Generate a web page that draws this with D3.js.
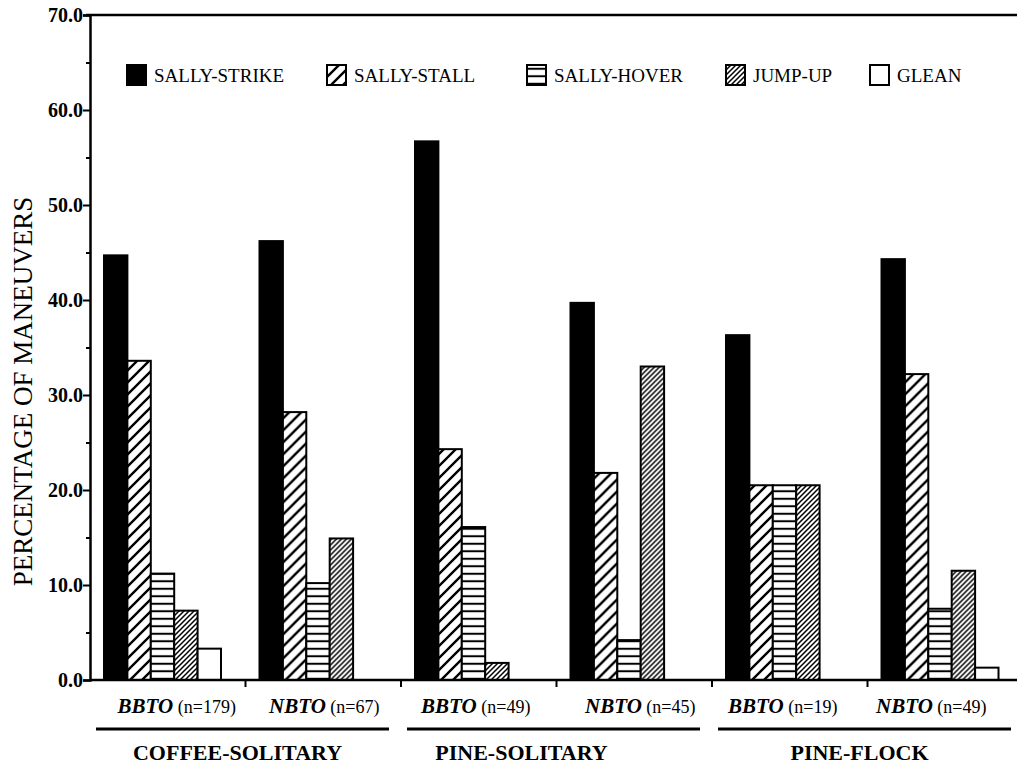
<!DOCTYPE html>
<html>
<head>
<meta charset="utf-8">
<script src="https://cdnjs.cloudflare.com/ajax/libs/d3/7.8.5/d3.min.js"></script>
<style>
  body { margin: 0; background: #fff; }
  svg text { font-family: "Liberation Serif", "DejaVu Serif", serif; fill: #000; }
</style>
</head>
<body>
<div id="chart"></div>
<script>
// data
var birds = ["BBTO", "NBTO", "BBTO", "NBTO", "BBTO", "NBTO"];
var sampleN = [179, 67, 49, 45, 19, 49];
var habitats = ["COFFEE-SOLITARY", "PINE-SOLITARY", "PINE-FLOCK"];
var maneuvers = ["SALLY-STRIKE", "SALLY-STALL", "SALLY-HOVER", "JUMP-UP", "GLEAN"];
var sallyStrike = [44.7, 46.2, 56.7, 39.7, 36.3, 44.3];
var sallyStall = [33.6, 28.2, 24.3, 21.8, 20.5, 32.2];
var sallyHover = [11.2, 10.2, 16.1, 4.2, 20.5, 7.5];
var jumpUp = [7.3, 14.9, 1.8, 33.0, 20.5, 11.5];
var glean = [3.3, 0, 0, 0, 0, 1.3];
var yTicks = [0, 10, 20, 30, 40, 50, 60, 70];
var yMinor = [5, 15, 25, 35, 45, 55, 65];

var series = [sallyStrike, sallyStall, sallyHover, jumpUp, glean];

var width = 1017, height = 773;
var axisX = 90, baseY = 680, topY = 15;

var svg = d3.select("#chart").append("svg")
    .attr("width", width)
    .attr("height", height);

// hatch patterns
var defs = svg.append("defs");
function diag(id, s, w) {
    var p = defs.append("pattern").attr("id", id)
        .attr("patternUnits", "userSpaceOnUse")
        .attr("width", s).attr("height", s);
    p.append("rect").attr("width", s).attr("height", s).attr("fill", "#fff");
    p.append("path")
        .attr("d", "M0," + s + "L" + s + ",0 M-2,2 L2,-2 M" + (s - 2) + "," + (s + 2) + "L" + (s + 2) + "," + (s - 2))
        .attr("stroke", "#000").attr("stroke-width", w);
}
diag("stall", 12, 2.4);
diag("jump", 5, 1.5);
var hp = defs.append("pattern").attr("id", "hover")
    .attr("patternUnits", "userSpaceOnUse")
    .attr("width", 8).attr("height", 7.5);
hp.append("rect").attr("width", 8).attr("height", 7.5).attr("fill", "#fff");
hp.append("line").attr("x1", 0).attr("x2", 8).attr("y1", 3.75).attr("y2", 3.75)
    .attr("stroke", "#000").attr("stroke-width", 2);

var fills = ["#000", "url(#stall)", "url(#hover)", "url(#jump)", "#fff"];

// scales
var x0 = d3.scaleBand().domain(d3.range(birds.length)).range([axisX, axisX + 155.5 * 6]);
var x1 = d3.scaleBand().domain(maneuvers).range([14, 131]);
var y = d3.scaleLinear().domain([0, 70]).range([baseY, topY]);

// bars
var groups = svg.selectAll("g.grp").data(birds).enter()
    .append("g").attr("class", "grp")
    .attr("transform", function (d, i) { return "translate(" + x0(i) + ",0)"; });

groups.selectAll("rect")
    .data(function (d, i) { return maneuvers.map(function (m, k) { return { m: m, k: k, v: series[k][i] }; }); })
    .enter().filter(function (d) { return d.v > 0; })
    .append("rect")
    .attr("x", function (d) { return x1(d.m); })
    .attr("y", function (d) { return y(d.v); })
    .attr("width", x1.bandwidth())
    .attr("height", function (d) { return baseY - y(d.v); })
    .attr("fill", function (d) { return fills[d.k]; })
    .attr("stroke", "#000")
    .attr("stroke-width", 2);

// y axis
var yAxis = d3.axisLeft(y).tickValues(yTicks).tickSize(7).tickFormat(d3.format(".1f"));
var ya = svg.append("g").attr("transform", "translate(" + axisX + ",0)").call(yAxis);
ya.select(".domain").attr("stroke-width", 2.5);
ya.selectAll(".tick line").attr("stroke-width", 2);
ya.selectAll(".tick text")
    .attr("font-weight", "bold")
    .attr("font-size", 20).attr("x", -7);
svg.append("g").attr("transform", "translate(" + axisX + ",0)")
    .call(d3.axisLeft(y).tickValues(yMinor).tickSize(4).tickFormat(""))
    .call(function (g) { g.select(".domain").remove(); g.selectAll("line").attr("stroke-width", 2); });

// top frame line
svg.append("line").attr("x1", axisX - 4).attr("x2", width)
    .attr("y1", y(70)).attr("y2", y(70))
    .attr("stroke", "#000").attr("stroke-width", 2.5);

// x axis with separators between groups
var xa = svg.append("g").attr("transform", "translate(0," + baseY + ")");
xa.append("line").attr("x1", axisX).attr("x2", width)
    .attr("stroke", "#000").attr("stroke-width", 2.5);
xa.selectAll("line.sep").data(d3.range(1, birds.length)).enter()
    .append("line").attr("class", "sep")
    .attr("x1", function (i) { return x0(i); }).attr("x2", function (i) { return x0(i); })
    .attr("y1", 0).attr("y2", 7)
    .attr("stroke", "#000").attr("stroke-width", 2);

// bird labels
var labelDx = [9, 1, -3, 6, -7, -14];
var lab = svg.selectAll("text.bird").data(birds).enter()
    .append("text").attr("class", "bird")
    .attr("x", function (d, i) { return x0(i) + x0.bandwidth() / 2 + labelDx[i]; })
    .attr("y", 713)
    .attr("text-anchor", "middle")
    .attr("font-size", 18);
lab.append("tspan").attr("font-weight", "bold").attr("font-style", "italic")
    .attr("font-size", 21).text(function (d) { return d; });
lab.append("tspan").text(function (d, i) { return "\u00a0(n=" + sampleN[i] + ")"; });

// habitat underline and labels
var habDx = [-8, -35, -8];
habitats.forEach(function (h, j) {
    var left = x0(j * 2), right = x0(j * 2) + x0.step() * 2;
    svg.append("line")
        .attr("x1", left + 6).attr("x2", Math.min(right - 12, width))
        .attr("y1", 729).attr("y2", 729)
        .attr("stroke", "#000").attr("stroke-width", 3);
    svg.append("text")
        .attr("x", (left + right) / 2 + habDx[j])
        .attr("y", 760)
        .attr("text-anchor", "middle")
        .attr("font-weight", "bold")
        .attr("font-size", 22)
        .text(h);
});

// y title
svg.append("text")
    .attr("transform", "translate(32," + (y(35) + 44) + ") rotate(-90)")
    .attr("text-anchor", "middle")
    .attr("font-size", 27)
    .text("PERCENTAGE OF MANEUVERS");

// legend
var legX = [127, 327, 527, 726, 870];
var leg = svg.selectAll("g.leg").data(maneuvers).enter()
    .append("g").attr("class", "leg")
    .attr("transform", function (d, i) { return "translate(" + legX[i] + ",65)"; });
leg.append("rect").attr("width", 19).attr("height", 20)
    .attr("fill", function (d, i) { return fills[i]; })
    .attr("stroke", "#000").attr("stroke-width", 2);
leg.append("text").attr("x", 27).attr("y", 17)
    .attr("font-size", 19)
    .text(function (d) { return d; });
</script>
</body>
</html>
